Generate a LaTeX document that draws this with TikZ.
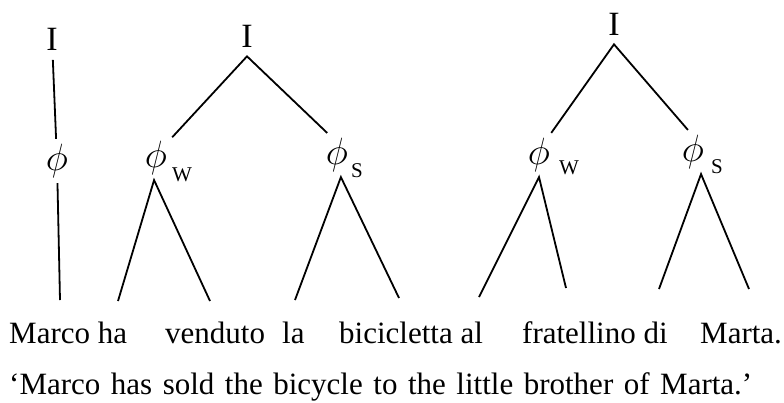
\RequirePackage{fix-cm}
\documentclass[tikz,border=0pt]{standalone}
\usepackage{fontspec}
\setmainfont{Liberation Serif}
\tikzstyle{cat} = [inner sep=9pt, font=\fontsize{34}{34}\selectfont]
\tikzstyle{phinode} = [inner sep=5pt, font=\fontsize{38}{38}\selectfont]
\tikzstyle{subscr} = [inner sep=0pt, font=\fontsize{21}{21}\selectfont]
\tikzstyle{branch} = [line width=1.8pt]
\tikzstyle{gloss} = [inner sep=0pt, anchor=base west, font=\fontsize{31}{31}\selectfont]

\begin{document}
\begin{tikzpicture}[x=1pt, y=-1pt]
    \useasboundingbox (0,0) rectangle (784,402);

    % tree 1
    \node [cat] (i1) at (52,39.5) {I};
    \node [phinode] (f1) at (57,161) {$\phi$};
    \coordinate (b1) at (60,300);
    \draw [branch] (i1) -- (f1);
    \draw [branch] (f1) -- (b1);

    % tree 2
    \node [cat] (i2) at (247,36) {I};
    \node [phinode] (fw2) at (156,158) {$\phi$};
    \node [subscr] (w2) at (182,175) {W};
    \node [phinode] (fs2) at (337,155) {$\phi$};
    \node [subscr] (s2) at (357,171) {S};
    \coordinate (bw2l) at (118,301);
    \coordinate (bw2r) at (210,301);
    \coordinate (bs2l) at (295,300);
    \coordinate (bs2r) at (399,298);
    \draw [branch] (fw2.52) -- (i2.south) -- (fs2.114);
    \draw [branch] (bw2l) -- (fw2.-95) -- (bw2r);
    \draw [branch] (bs2l) -- (fs2.-80) -- (bs2r);

    % tree 3
    \node [cat] (i3) at (614,24) {I};
    \node [phinode] (fw3) at (539,155) {$\phi$};
    \node [subscr] (w3) at (569,168) {W};
    \node [phinode] (fs3) at (693,152) {$\phi$};
    \node [subscr] (s3) at (717,167) {S};
    \coordinate (bw3l) at (479,297);
    \coordinate (bw3r) at (566,288);
    \coordinate (bs3l) at (659,289);
    \coordinate (bs3r) at (749,289);
    \draw [branch] (fw3.61) -- (i3.south) -- (fs3.103);
    \draw [branch] (bw3l) -- (fw3.south) -- (bw3r);
    \draw [branch] (bs3l) -- (fs3.-70) -- (bs3r);

    % gloss lines
    \node [gloss] (marco) at (9,343) {Marco ha};
    \node [gloss] (venduto) at (165,343) {venduto};
    \node [gloss] (la) at (282,343) {la};
    \node [gloss] (bici) at (339,343) {bicicletta al};
    \node [gloss] (frat) at (522,343) {fratellino di};
    \node [gloss] (marta) at (700,343) {Marta.};
    \node [gloss] (transl) at (9,394) {\makebox[743pt][s]{‘Marco has sold the bicycle to the little brother of Marta.’}};
\end{tikzpicture}
\end{document}
